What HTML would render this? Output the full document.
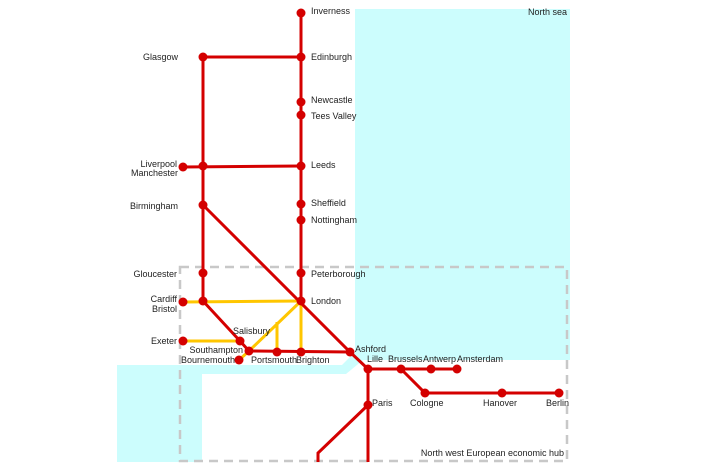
<!DOCTYPE html>
<html><head><meta charset="utf-8"><style>
html,body{margin:0;padding:0;background:#fff;}
svg{display:block;}
text{font-family:"Liberation Sans",sans-serif;font-size:9px;fill:#222;}
</style></head><body>
<svg width="702" height="468" viewBox="0 0 702 468" xmlns="http://www.w3.org/2000/svg">
<rect x="355" y="9" width="215" height="351" fill="#ccfdfd"/>
<polygon points="117,365 342,365 355,352 363,360 346,374 202,374 202,462 117,462" fill="#ccfdfd"/>
<rect x="180" y="267" width="387" height="194" fill="none" stroke="#c8c8c8" stroke-width="2.5" stroke-dasharray="9,6"/>
<g stroke="#ffc600" stroke-width="3" fill="none">
<line x1="183" y1="302" x2="301" y2="301"/>
<line x1="183" y1="341" x2="240" y2="341"/>
<line x1="301" y1="301" x2="249" y2="351"/>
<line x1="277" y1="322" x2="277" y2="352"/>
<line x1="301" y1="301" x2="301" y2="352"/>
<line x1="249" y1="351" x2="239" y2="360"/>
</g>
<g stroke="#d40000" stroke-width="3" fill="none">
<line x1="301" y1="13" x2="301" y2="301"/>
<line x1="203" y1="57" x2="203" y2="301"/>
<line x1="203" y1="57" x2="301" y2="57"/>
<line x1="183" y1="167" x2="301" y2="166"/>
<polyline points="203,205 350,352 368,369 368,462"/>
<polyline points="203,301 240,341 249,351 350,352"/>
<line x1="368" y1="369" x2="457" y2="369"/>
<polyline points="401,369 425,393 559,393"/>
<polyline points="368,405 318,453 318,462"/>
</g>
<g fill="#d40000">
<circle cx="301" cy="13" r="4.5"/><circle cx="301" cy="57" r="4.5"/><circle cx="301" cy="102" r="4.5"/><circle cx="301" cy="115" r="4.5"/><circle cx="301" cy="166" r="4.5"/><circle cx="301" cy="204" r="4.5"/><circle cx="301" cy="220" r="4.5"/><circle cx="301" cy="273" r="4.5"/><circle cx="301" cy="301" r="4.5"/>
<circle cx="203" cy="57" r="4.5"/><circle cx="183" cy="167" r="4.5"/><circle cx="203" cy="166" r="4.5"/><circle cx="203" cy="205" r="4.5"/><circle cx="203" cy="273" r="4.5"/><circle cx="203" cy="301" r="4.5"/><circle cx="183" cy="302" r="4.5"/>
<circle cx="183" cy="341" r="4.5"/><circle cx="240" cy="341" r="4.5"/><circle cx="249" cy="351" r="4.5"/><circle cx="239" cy="360" r="4.5"/><circle cx="277" cy="352" r="4.5"/><circle cx="301" cy="352" r="4.5"/><circle cx="350" cy="352" r="4.5"/>
<circle cx="368" cy="369" r="4.5"/><circle cx="401" cy="369" r="4.5"/><circle cx="431" cy="369" r="4.5"/><circle cx="457" cy="369" r="4.5"/>
<circle cx="425" cy="393" r="4.5"/><circle cx="502" cy="393" r="4.5"/><circle cx="559" cy="393" r="4.5"/><circle cx="368" cy="405" r="4.5"/>
</g>
<text x="311" y="14">Inverness</text>
<text x="311" y="60">Edinburgh</text>
<text x="311" y="103">Newcastle</text>
<text x="311" y="119">Tees Valley</text>
<text x="311" y="168">Leeds</text>
<text x="311" y="206">Sheffield</text>
<text x="311" y="223">Nottingham</text>
<text x="311" y="277">Peterborough</text>
<text x="311" y="304">London</text>
<g text-anchor="end">
<text x="178" y="60">Glasgow</text>
<text x="177" y="167">Liverpool</text>
<text x="178" y="176">Manchester</text>
<text x="178" y="209">Birmingham</text>
<text x="177" y="277">Gloucester</text>
<text x="177" y="302">Cardiff</text>
<text x="177" y="312">Bristol</text>
<text x="177" y="344">Exeter</text>
<text x="243" y="353">Southampton</text>
<text x="235" y="363">Bournemouth</text>
</g>
<text x="233" y="334">Salisbury</text>
<text x="251" y="363">Portsmouth</text>
<text x="296" y="363">Brighton</text>
<text x="355" y="352">Ashford</text>
<text x="367" y="362">Lille</text>
<text x="388" y="362">Brussels</text>
<text x="423" y="362">Antwerp</text>
<text x="457" y="362">Amsterdam</text>
<text x="410" y="406">Cologne</text>
<text x="483" y="406">Hanover</text>
<text x="546" y="406">Berlin</text>
<text x="372" y="406">Paris</text>
<text x="567" y="15" text-anchor="end">North sea</text>
<text x="564" y="456" text-anchor="end">North west European economic hub</text>
</svg>
</body></html>
